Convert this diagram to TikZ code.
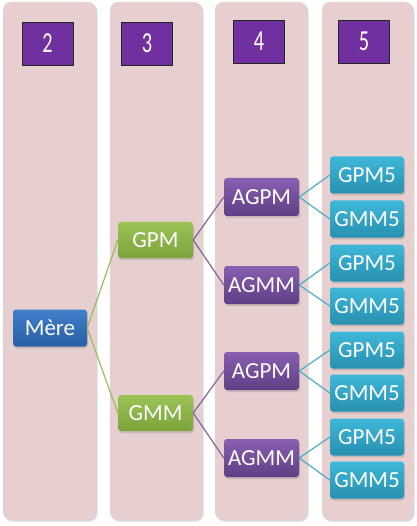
\documentclass[tikz,border=0pt]{standalone}
\usepackage{fontspec}
\setmainfont{Carlito}
\usetikzlibrary{shadows}
\definecolor{pinkcol}{HTML}{E7CFD0}
\definecolor{numfill}{HTML}{7030A0}
\definecolor{blueT}{HTML}{3F80CC}
\definecolor{blueB}{HTML}{2A5DA3}
\definecolor{greenT}{HTML}{9DC356}
\definecolor{greenB}{HTML}{7AA33A}
\definecolor{purpT}{HTML}{8A5FB0}
\definecolor{purpB}{HTML}{5E3F84}
\definecolor{tealT}{HTML}{3FB8DA}
\definecolor{tealB}{HTML}{2790B0}
\definecolor{greenL}{HTML}{9BBB59}
\definecolor{purpL}{HTML}{8064A2}
\definecolor{tealL}{HTML}{4BACC6}
\tikzset{
  colbox/.style={fill=pinkcol, rounded corners=8pt, drop shadow={shadow xshift=1.5pt, shadow yshift=-1.5pt, opacity=0.3}},
  numbox/.style={draw=black!85, line width=0.8pt, fill=numfill, text=white, minimum width=51pt, minimum height=43pt, inner sep=0pt, font=\fontsize{29}{31}\selectfont},
  box/.style={rounded corners=3pt, text=white, minimum width=74pt, minimum height=37pt, inner sep=0pt, font=\fontsize{23}{25}\selectfont, drop shadow={shadow xshift=1pt, shadow yshift=-2pt, opacity=0.3}},
  bluebox/.style={box, top color=blueT, bottom color=blueB},
  greenbox/.style={box, top color=greenT, bottom color=greenB, minimum width=75pt, minimum height=36pt},
  purpbox/.style={box, top color=purpT, bottom color=purpB, minimum width=75pt, minimum height=38pt},
  tealbox/.style={box, top color=tealT, bottom color=tealB},
  gline/.style={draw=greenL, line width=1.2pt},
  pline/.style={draw=purpL, line width=1.2pt},
  tline/.style={draw=tealL, line width=1.2pt},
}
\newcommand{\cond}[1]{\scalebox{0.7}[1]{#1}}
\begin{document}
\begin{tikzpicture}[x=1pt,y=-1pt]
\useasboundingbox (0,0) rectangle (416,526);
\path[colbox] (3,2) rectangle (96,520);
\path[colbox] (110,2) rectangle (202,520);
\path[colbox] (215,2) rectangle (307,520);
\path[colbox] (322,2) rectangle (413,520);
\node[numbox] (n2) at (47.5,43.5) {\cond{2}};
\node[numbox] (n3) at (147,43.5) {\cond{3}};
\node[numbox] (n4) at (259,41.5) {\cond{4}};
\node[numbox] (n5) at (364,41.5) {\cond{5}};
\node[bluebox] (mere) at (50,328) {Mère};
\node[greenbox] (gpm) at (155.5,240) {GPM};
\node[greenbox] (gmm) at (155.5,413) {GMM};
\node[purpbox] (agpm1) at (261.5,197) {AGPM};
\node[purpbox] (agmm1) at (261.5,285) {AGMM};
\node[purpbox] (agpm2) at (261.5,371) {AGPM};
\node[purpbox] (agmm2) at (261.5,458) {AGMM};
\node[tealbox] (l1) at (367,175) {GPM5};
\node[tealbox] (l2) at (367,219) {GMM5};
\node[tealbox] (l3) at (367,263) {GPM5};
\node[tealbox] (l4) at (367,306) {GMM5};
\node[tealbox] (l5) at (367,350) {GPM5};
\node[tealbox] (l6) at (367,393) {GMM5};
\node[tealbox] (l7) at (367,437) {GPM5};
\node[tealbox] (l8) at (367,480) {GMM5};
\draw[gline] (mere.east) -- (gpm.west);
\draw[gline] (mere.east) -- (gmm.west);
\draw[pline] (gpm.east) -- (agpm1.west);
\draw[pline] (gpm.east) -- (agmm1.west);
\draw[pline] (gmm.east) -- (agpm2.west);
\draw[pline] (gmm.east) -- (agmm2.west);
\draw[tline] (agpm1.east) -- (l1.west);
\draw[tline] (agpm1.east) -- (l2.west);
\draw[tline] (agmm1.east) -- (l3.west);
\draw[tline] (agmm1.east) -- (l4.west);
\draw[tline] (agpm2.east) -- (l5.west);
\draw[tline] (agpm2.east) -- (l6.west);
\draw[tline] (agmm2.east) -- (l7.west);
\draw[tline] (agmm2.east) -- (l8.west);
\end{tikzpicture}
\end{document}
